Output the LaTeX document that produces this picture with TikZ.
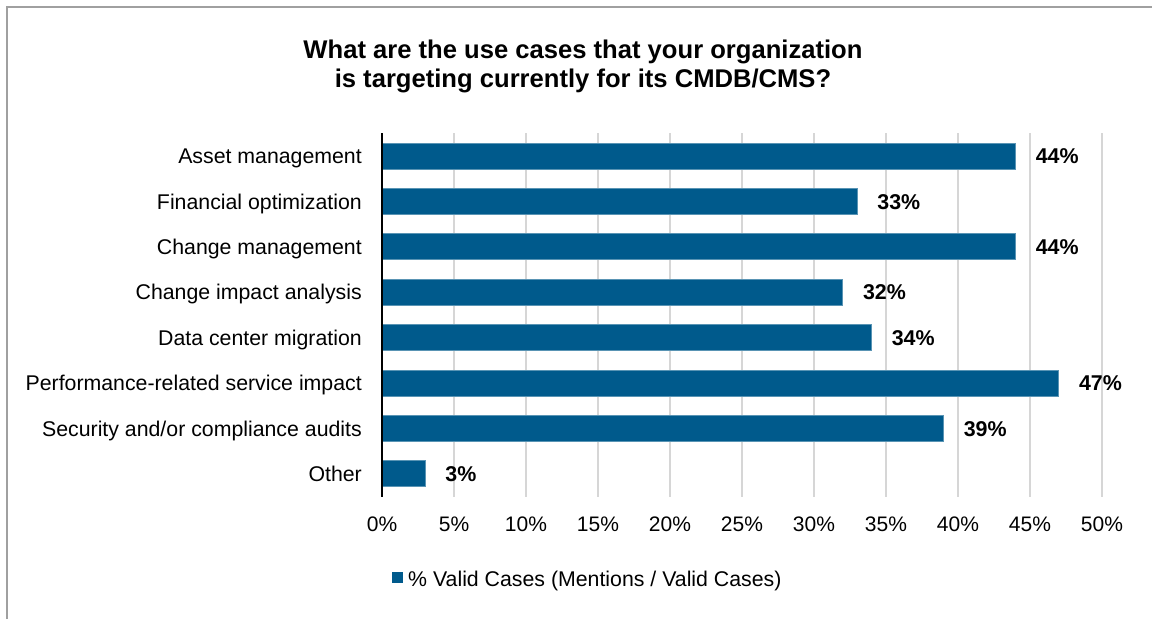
\documentclass[tikz,border=0pt]{standalone}
\usepackage{fontspec}
\setmainfont{Liberation Sans}
\definecolor{barblue}{RGB}{0,90,140}
\definecolor{gridgray}{RGB}{214,214,214}
\definecolor{framegray}{RGB}{160,160,160}
\tikzset{
    bar/.style={fill=barblue, draw=barblue!65!white, line width=0.8pt},
    gridline/.style={gridgray, line width=2.4pt},
    catlabel/.style={anchor=base east, inner sep=0pt, font=\fontsize{21.3}{25}\selectfont},
    vallabel/.style={anchor=base west, inner sep=0pt, font=\fontsize{21.4}{25}\selectfont\bfseries},
    ticklabel/.style={anchor=base, inner sep=0pt, font=\fontsize{21}{25}\selectfont},
    titleline/.style={anchor=base, inner sep=0pt, font=\fontsize{25.6}{29.5}\selectfont\bfseries}
}
\begin{document}
\begin{tikzpicture}[x=1pt, y=-1pt]
            \useasboundingbox (0,0) rectangle (1152,619);
            \fill[white] (0,0) rectangle (1152,619);

            \draw[framegray, line width=1.8pt] (6.8,619) -- (6.8,6.6) -- (1152,6.6);

            \node[titleline] (title1) at (583,58.3) {What are the use cases that your organization};
            \node[titleline] (title2) at (583,87.6) {is targeting currently for its CMDB/CMS?};

            \draw[gridline] (454,133) -- (454,497);
            \draw[gridline] (526,133) -- (526,497);
            \draw[gridline] (598,133) -- (598,497);
            \draw[gridline] (670,133) -- (670,497);
            \draw[gridline] (742,133) -- (742,497);
            \draw[gridline] (814,133) -- (814,497);
            \draw[gridline] (886,133) -- (886,497);
            \draw[gridline] (958,133) -- (958,497);
            \draw[gridline] (1030,133) -- (1030,497);
            \draw[gridline] (1102,133) -- (1102,497);

            \draw[bar] (382,143) rectangle (1015.6,169);
            \draw[bar] (382,188.4) rectangle (857.2,214.4);
            \draw[bar] (382,233.8) rectangle (1015.6,259.8);
            \draw[bar] (382,279.2) rectangle (842.8,305.2);
            \draw[bar] (382,324.6) rectangle (871.6,350.6);
            \draw[bar] (382,370) rectangle (1058.8,396);
            \draw[bar] (382,415.4) rectangle (943.6,441.4);
            \draw[bar] (382,460.8) rectangle (425.2,486.8);

            \draw[black, line width=2pt] (382,133) -- (382,497);

            \node[catlabel] (asset) at (362,163.6) {Asset management};
            \node[catlabel] (financial) at (362,209) {Financial optimization};
            \node[catlabel] (change) at (362,254.4) {Change management};
            \node[catlabel] (impact) at (362,299.8) {Change impact analysis};
            \node[catlabel] (migration) at (362,345.2) {Data center migration};
            \node[catlabel] (perf) at (362,390.6) {Performance-related service impact};
            \node[catlabel] (security) at (362,436) {Security and/or compliance audits};
            \node[catlabel] (other) at (362,481.4) {Other};

            \node[vallabel] (asset-val) at (1035.6,163.6) {44\%};
            \node[vallabel] (financial-val) at (877.2,209) {33\%};
            \node[vallabel] (change-val) at (1035.6,254.4) {44\%};
            \node[vallabel] (impact-val) at (862.8,299.8) {32\%};
            \node[vallabel] (migration-val) at (891.6,345.2) {34\%};
            \node[vallabel] (perf-val) at (1078.8,390.6) {47\%};
            \node[vallabel] (security-val) at (963.6,436) {39\%};
            \node[vallabel] (other-val) at (445.2,481.4) {3\%};

            \node[ticklabel] (tick0) at (382,531.7) {0\%};
            \node[ticklabel] (tick5) at (454,531.7) {5\%};
            \node[ticklabel] (tick10) at (526,531.7) {10\%};
            \node[ticklabel] (tick15) at (598,531.7) {15\%};
            \node[ticklabel] (tick20) at (670,531.7) {20\%};
            \node[ticklabel] (tick25) at (742,531.7) {25\%};
            \node[ticklabel] (tick30) at (814,531.7) {30\%};
            \node[ticklabel] (tick35) at (886,531.7) {35\%};
            \node[ticklabel] (tick40) at (958,531.7) {40\%};
            \node[ticklabel] (tick45) at (1030,531.7) {45\%};
            \node[ticklabel] (tick50) at (1102,531.7) {50\%};

            \node[fill=barblue, inner sep=0pt, minimum size=11pt] (legend-key) at (397.8,577.8) {};
            \node[anchor=base west, inner sep=0pt, font=\fontsize{21.3}{25}\selectfont] (legend-text) at (408,586.7) {\% Valid Cases (Mentions / Valid Cases)};
        \end{tikzpicture}
\end{document}
